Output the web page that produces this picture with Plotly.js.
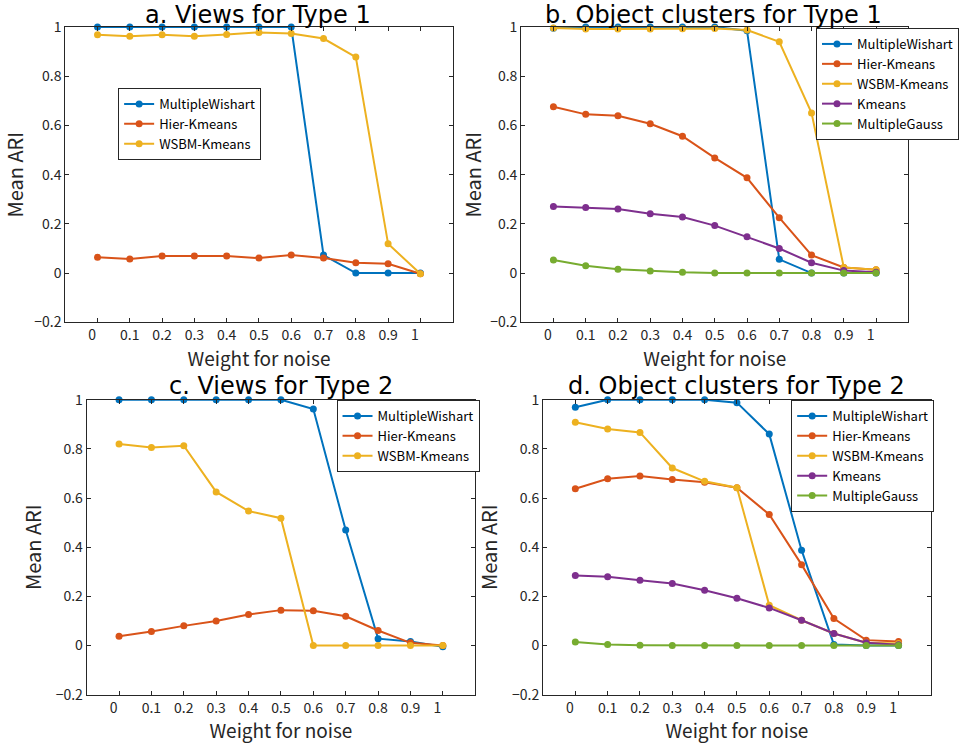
<!DOCTYPE html>
<html>
<head>
<meta charset="utf-8">
<script src="https://cdn.plot.ly/plotly-3.0.1.min.js"></script>
<style>html,body{margin:0;padding:0;background:#fff;}#chart{width:959px;height:746px;}</style>
</head>
<body>
<div id="chart"></div>
<script>
// ---- data ----
const weights = [0, 0.1, 0.2, 0.3, 0.4, 0.5, 0.6, 0.7, 0.8, 0.9, 1];
const xTickLabels = ["0\u2007\u00A0", "0.1", "0.2", "0.3", "0.4", "0.5", "0.6", "0.7", "0.8", "0.9", "1\u2007\u00A0"];
const yTickVals = [-0.2, 0, 0.2, 0.4, 0.6, 0.8, 1];
const yTickLabels = ["\u22120.2", "0", "0.2", "0.4", "0.6", "0.8", "1"];

const panelTitles = ["a. Views for Type 1", "b. Object clusters for Type 1", "c. Views for Type 2", "d. Object clusters for Type 2"];
const methodNames = ["MultipleWishart", "Hier-Kmeans", "WSBM-Kmeans", "Kmeans", "MultipleGauss"];

// Panel a: Views for Type 1
const aMultipleWishart = [1, 1, 1, 1, 1, 1, 1, 0.073, 0, 0, 0];
const aHierKmeans      = [0.064, 0.057, 0.069, 0.069, 0.069, 0.061, 0.073, 0.061, 0.042, 0.038, -0.003];
const aWSBMKmeans      = [0.969, 0.962, 0.969, 0.962, 0.970, 0.978, 0.974, 0.953, 0.878, 0.119, -0.003];

// Panel b: Object clusters for Type 1
const bMultipleWishart = [0.995, 1, 1, 1, 1, 1, 0.985, 0.056, 0, 0, 0];
const bHierKmeans      = [0.676, 0.645, 0.639, 0.607, 0.556, 0.468, 0.387, 0.225, 0.073, 0.023, 0.014];
const bWSBMKmeans      = [0.996, 0.992, 0.992, 0.992, 0.993, 0.994, 0.988, 0.940, 0.651, 0.023, 0.014];
const bKmeans          = [0.271, 0.267, 0.260, 0.241, 0.228, 0.193, 0.148, 0.100, 0.042, 0.010, 0.003];
const bMultipleGauss   = [0.053, 0.030, 0.016, 0.008, 0.003, 0, 0, 0, 0, 0, 0];

// Panel c: Views for Type 2
const cMultipleWishart = [1, 1, 1, 1, 1, 1, 0.962, 0.470, 0.028, 0.016, -0.005];
const cHierKmeans      = [0.038, 0.057, 0.080, 0.100, 0.126, 0.144, 0.141, 0.119, 0.061, 0.011, 0];
const cWSBMKmeans      = [0.820, 0.806, 0.813, 0.625, 0.547, 0.518, 0, 0, 0, 0, 0];

// Panel d: Object clusters for Type 2
const dMultipleWishart = [0.969, 1, 1, 1, 1, 0.988, 0.860, 0.388, 0.004, 0, 0];
const dHierKmeans      = [0.638, 0.678, 0.690, 0.675, 0.664, 0.642, 0.533, 0.329, 0.110, 0.022, 0.016];
const dWSBMKmeans      = [0.908, 0.881, 0.867, 0.722, 0.668, 0.642, 0.164, 0.103, 0.049, 0.011, 0.008];
const dKmeans          = [0.285, 0.280, 0.266, 0.252, 0.225, 0.192, 0.153, 0.103, 0.049, 0.011, 0.003];
const dMultipleGauss   = [0.014, 0.004, 0.001, 0, 0, 0, 0, 0, 0, 0, 0];

// ---- styling ----
const colors = ["#0072BD", "#D95319", "#EDB120", "#7E2F8E", "#77AC30"];
const FONT = "'Noto Sans CJK JP', 'Noto Sans', sans-serif";
const TFONT = "'DejaVu Sans', sans-serif";
const W = 959, H = 746;

function mk(y, idx, axN, legendId) {
  return {
    x: weights, y: y, type: "scatter", mode: "lines+markers",
    name: methodNames[idx],
    line: {color: colors[idx], width: 2},
    marker: {color: colors[idx], size: 7},
    cliponaxis: false,
    xaxis: "x" + (axN === 1 ? "" : axN), yaxis: "y" + (axN === 1 ? "" : axN),
    legend: legendId
  };
}

const traces = [
  mk(aMultipleWishart, 0, 1, "legend"), mk(aHierKmeans, 1, 1, "legend"), mk(aWSBMKmeans, 2, 1, "legend"),
  mk(bMultipleWishart, 0, 2, "legend2"), mk(bHierKmeans, 1, 2, "legend2"), mk(bWSBMKmeans, 2, 2, "legend2"),
  mk(bKmeans, 3, 2, "legend2"), mk(bMultipleGauss, 4, 2, "legend2"),
  mk(cMultipleWishart, 0, 3, "legend3"), mk(cHierKmeans, 1, 3, "legend3"), mk(cWSBMKmeans, 2, 3, "legend3"),
  mk(dMultipleWishart, 0, 4, "legend4"), mk(dHierKmeans, 1, 4, "legend4"), mk(dWSBMKmeans, 2, 4, "legend4"),
  mk(dKmeans, 3, 4, "legend4"), mk(dMultipleGauss, 4, 4, "legend4")
];

// panel boxes in pixels: [left, right, top, bottom]
const boxes = [
  [65.7, 456, 27, 322.3],
  [525, 915, 27, 322.3],
  [87.3, 478.7, 399.7, 694.7],
  [547, 937.7, 399.7, 694.7]
];
const yStandoffs = [8, 3, 8, 8];

function xax(b, axN) {
  return {
    domain: [b[0] / W, b[1] / W], anchor: "y" + (axN === 1 ? "" : axN),
    range: [-0.1, 1.1], tickvals: weights, ticktext: xTickLabels,
    ticks: "inside", ticklen: 4, tickcolor: "#262626", mirror: "allticks",
    showline: true, linecolor: "#262626", linewidth: 1, showgrid: false, zeroline: false,
    tickfont: {family: FONT, size: 14, color: "#262626"},
    title: {text: "Weight for noise", font: {family: FONT, size: 19, color: "#262626"}, standoff: 2}
  };
}
function yax(b, axN) {
  return {
    domain: [1 - b[3] / H, 1 - b[2] / H], anchor: "x" + (axN === 1 ? "" : axN),
    range: [-0.2, 1], tickvals: yTickVals, ticktext: yTickLabels,
    ticks: "inside", ticklen: 4, tickcolor: "#262626", mirror: "allticks",
    showline: true, linecolor: "#262626", linewidth: 1, showgrid: false, zeroline: false,
    tickfont: {family: FONT, size: 14, color: "#262626"},
    title: {text: "Mean ARI", font: {family: FONT, size: 20, color: "#262626"}, standoff: yStandoffs[axN - 1]}
  };
}

function leg(x, y) {
  return {
    x: x / W, y: 1 - y / H, xanchor: "left", yanchor: "top",
    bgcolor: "#ffffff", bordercolor: "#262626", borderwidth: 1,
    font: {family: FONT, size: 13, color: "#000"},
    tracegroupgap: 0, itemwidth: 30
  };
}

// title centre x and box top y (pixels)
const titlePos = [[260, 0], [719, 0], [283, 371], [742, 371]];
const annotations = panelTitles.map((t, i) => ({
  text: t, xref: "paper", yref: "paper",
  x: titlePos[i][0] / W, y: 1 - titlePos[i][1] / H,
  xanchor: "center", yanchor: "top", showarrow: false, borderpad: 0,
  font: {family: TFONT, size: 24, color: "#000"}
}));

const layout = {
  width: W, height: H,
  margin: {l: 0, r: 0, t: 0, b: 0},
  paper_bgcolor: "#ffffff", plot_bgcolor: "#ffffff",
  showlegend: true,
  xaxis: xax(boxes[0], 1), yaxis: yax(boxes[0], 1),
  xaxis2: xax(boxes[1], 2), yaxis2: yax(boxes[1], 2),
  xaxis3: xax(boxes[2], 3), yaxis3: yax(boxes[2], 3),
  xaxis4: xax(boxes[3], 4), yaxis4: yax(boxes[3], 4),
  legend: leg(119, 88),
  legend2: leg(822, 28),
  legend3: leg(339, 400),
  legend4: leg(797, 400),
  annotations: annotations
};

Plotly.newPlot("chart", traces, layout, {displayModeBar: false, staticPlot: true});
</script>
</body>
</html>
